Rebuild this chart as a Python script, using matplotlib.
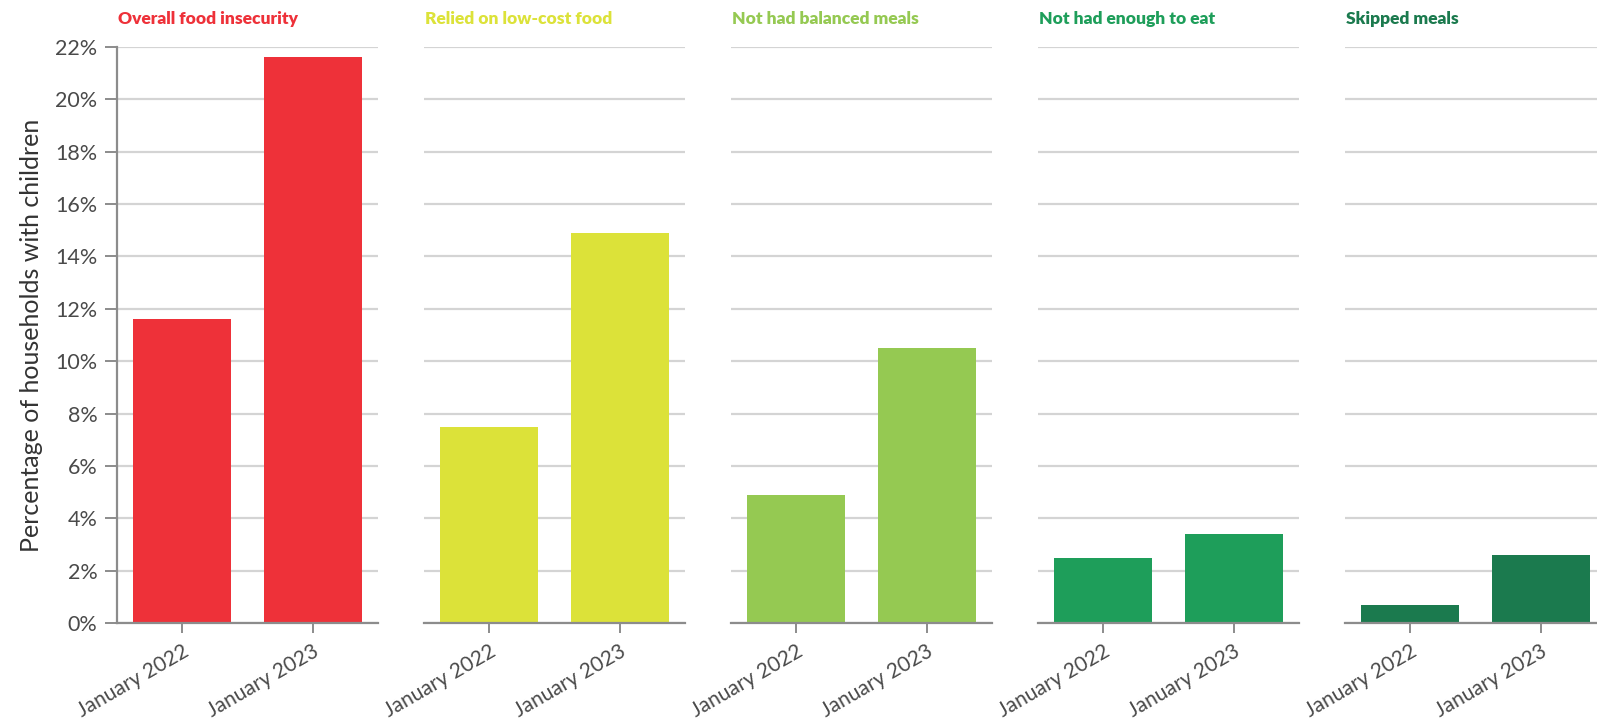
import matplotlib
matplotlib.use("Agg")
import matplotlib.pyplot as plt
from matplotlib.ticker import FuncFormatter

# Data
periods = ["January 2022", "January 2023"]
measures = [
    "Overall food insecurity",
    "Relied on low-cost food",
    "Not had balanced meals",
    "Not had enough to eat",
    "Skipped meals",
]
overall = [11.6, 21.6]
low_cost = [7.5, 14.9]
balanced = [4.9, 10.5]
enough = [2.5, 3.4]
skipped = [0.7, 2.6]
series = [overall, low_cost, balanced, enough, skipped]
colors = ["#EE3139", "#DCE239", "#95C952", "#1E9E5A", "#1B7A4E"]
y_ticks = [0, 2, 4, 6, 8, 10, 12, 14, 16, 18, 20, 22]

W, H = 1597, 721
fig = plt.figure(figsize=(W / 100, H / 100), dpi=100)

grid_c = "#d4d4d4"
axis_c = "#8c8c8c"
text_c = "#4a4a4a"

panel_left = 117
panel_step = 307
panel_w = 261
y0_px, ytop_px = 623, 47

for i, (name, vals, col) in enumerate(zip(measures, series, colors)):
    left = (panel_left + panel_step * i) / W
    ax = fig.add_axes([left, (H - y0_px) / H, panel_w / W, (y0_px - ytop_px) / H])
    x = list(range(len(periods)))
    ax.bar(x, vals, width=0.75, color=col, zorder=3)
    ax.set_xlim(-0.5, 1.5)
    ax.set_ylim(0, 22)
    ax.set_yticks(y_ticks)
    ax.yaxis.grid(True, color=grid_c, linewidth=1.6, zorder=0)
    ax.set_axisbelow(True)
    for s in ["top", "right"]:
        ax.spines[s].set_visible(False)
    ax.spines["bottom"].set_color(axis_c)
    ax.spines["bottom"].set_linewidth(1.6)
    ax.spines["bottom"].set_zorder(4)
    ax.set_xticks(x)
    ax.set_xticklabels(periods, rotation=30, ha="right", rotation_mode="anchor",
                       fontsize=15, color=text_c, family="Lato")
    ax.tick_params(axis="x", length=7, width=1.4, color=axis_c, pad=6)
    if i == 0:
        ax.spines["left"].set_color(axis_c)
        ax.spines["left"].set_linewidth(1.6)
        ax.yaxis.set_major_formatter(FuncFormatter(lambda v, p: f"{v:.0f}%"))
        ax.tick_params(axis="y", length=9, width=1.4, color=axis_c,
                       labelsize=15.5, labelcolor=text_c, pad=5)
        for lab in ax.get_yticklabels():
            lab.set_family("Lato")
        ax.set_ylabel("Percentage of households with children", fontsize=18,
                      color="#333333", family="Lato", labelpad=9)
    else:
        ax.spines["left"].set_visible(False)
        ax.tick_params(axis="y", length=0, labelleft=False)
    fig.text(left + 1 / W, 1 - 19 / H, name, fontsize=12.5, fontweight="heavy",
             color=col, family="Lato", ha="left", va="center")

fig.savefig("out.png", dpi=100)
